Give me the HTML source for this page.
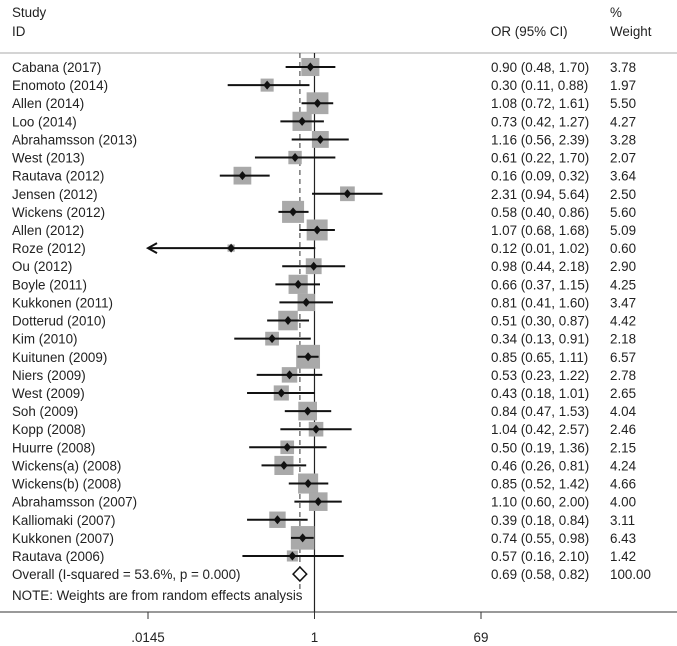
<!DOCTYPE html>
<html><head><meta charset="utf-8">
<style>
body{margin:0;background:#fff;}
svg{display:block;font-family:"Liberation Sans",Arial,sans-serif;}
</style></head>
<body>
<svg id="plot" width="677" height="646" viewBox="0 0 677 646">
<text x="12" y="17" font-size="13.4" fill="#222">Study</text>
<text x="12" y="36" font-size="13.4" fill="#222">ID</text>
<text x="491" y="36" font-size="13.4" fill="#222">OR (95% CI)</text>
<text x="610" y="17" font-size="13.4" fill="#222">%</text>
<text x="610" y="36" font-size="13.4" fill="#222">Weight</text>
<line x1="0" y1="53" x2="677" y2="53" stroke="#aaa" stroke-width="1"/>
<g id="marks"></g>
<line x1="0" y1="612" x2="677" y2="612" stroke="#333" stroke-width="1"/>
<text x="12" y="600" font-size="13.4" fill="#222">NOTE: Weights are from random effects analysis</text>
</svg>
<script>
const studies=["Cabana (2017)","Enomoto (2014)","Allen (2014)","Loo (2014)","Abrahamsson (2013)","West (2013)","Rautava (2012)","Jensen (2012)","Wickens (2012)","Allen (2012)","Roze (2012)","Ou (2012)","Boyle (2011)","Kukkonen (2011)","Dotterud (2010)","Kim (2010)","Kuitunen (2009)","Niers (2009)","West (2009)","Soh (2009)","Kopp (2008)","Huurre (2008)","Wickens(a) (2008)","Wickens(b) (2008)","Abrahamsson (2007)","Kalliomaki (2007)","Kukkonen (2007)","Rautava (2006)"];
const orVals=[0.90,0.30,1.08,0.73,1.16,0.61,0.16,2.31,0.58,1.07,0.12,0.98,0.66,0.81,0.51,0.34,0.85,0.53,0.43,0.84,1.04,0.50,0.46,0.85,1.10,0.39,0.74,0.57];
const lower=[0.48,0.11,0.72,0.42,0.56,0.22,0.09,0.94,0.40,0.68,0.01,0.44,0.37,0.41,0.30,0.13,0.65,0.23,0.18,0.47,0.42,0.19,0.26,0.52,0.60,0.18,0.55,0.16];
const upper=[1.70,0.88,1.61,1.27,2.39,1.70,0.32,5.64,0.86,1.68,1.02,2.18,1.15,1.60,0.87,0.91,1.11,1.22,1.01,1.53,2.57,1.36,0.81,1.42,2.00,0.84,0.98,2.10];
const weights=[3.78,1.97,5.50,4.27,3.28,2.07,3.64,2.50,5.60,5.09,0.60,2.90,4.25,3.47,4.42,2.18,6.57,2.78,2.65,4.04,2.46,2.15,4.24,4.66,4.00,3.11,6.43,1.42];
const overall=[0.69,0.58,0.82];
const tickVals=[0.0145,1,69];
const tickLabels=[".0145","1","69"];

const NS="http://www.w3.org/2000/svg";
const g=document.getElementById("marks");
const xMin=0.0145,xMax=69,px0=148,px1=481;
function xs(v){return px0+(Math.log(v)-Math.log(xMin))/(Math.log(xMax)-Math.log(xMin))*(px1-px0);}
function ys(i){return 67+i*18.11;}
function fmt(v){return v.toFixed(2);}
function mk(tag,attrs){const e=document.createElementNS(NS,tag);for(const k in attrs)e.setAttribute(k,attrs[k]);g.appendChild(e);return e;}

const yOv=ys(studies.length);
let l=mk("line",{x1:xs(1),y1:53,x2:xs(1),y2:612,stroke:"#222","stroke-width":1.2});


l=mk("line",{x1:xs(overall[0]),y1:53,x2:xs(overall[0]),y2:592,stroke:"#555","stroke-width":1.2,"stroke-dasharray":"5,4"});



studies.forEach((s,i)=>{
  const y=ys(i),cx=xs(orVals[i]);
  const side=9.3*Math.sqrt(weights[i]);
  const b=mk("rect",{x:cx-side/2,y:y-side/2,width:side,height:side,fill:"#a9a9a9"});
  
  
  const lo=Math.max(lower[i],xMin),clipped=lower[i]<xMin;
  const ci=mk("line",{x1:xs(lo),y1:y,x2:xs(Math.min(upper[i],xMax)),y2:y,stroke:"#111","stroke-width":2});
  
  
  if(clipped){
    const a=mk("path",{d:`M${xs(lo)+9},${y-5} L${xs(lo)},${y} L${xs(lo)+9},${y+5}`,fill:"none",stroke:"#111","stroke-width":2});
    
    
  }
  const d=mk("path",{d:`M${cx},${y-4.5} L${cx+3.8},${y} L${cx},${y+4.5} L${cx-3.8},${y}Z`,fill:"#111"});
  
  
  let t=mk("text",{x:12,y:y+5,"font-size":13.4,fill:"#222"});t.textContent=s;
  
  
  t=mk("text",{x:491,y:y+5,"font-size":13.4,fill:"#222"});t.textContent=`${fmt(orVals[i])} (${fmt(lower[i])}, ${fmt(upper[i])})`;
  
  
  t=mk("text",{x:610,y:y+5,"font-size":13.4,fill:"#222"});t.textContent=fmt(weights[i]);
  
  
});

const dl=xs(overall[1]),dc=xs(overall[0]),dr=xs(overall[2]);
let dm=mk("path",{d:`M${dc},${yOv-7} L${dr},${yOv} L${dc},${yOv+7} L${dl},${yOv}Z`,fill:"#fff",stroke:"#111","stroke-width":1.5});


let t=mk("text",{x:12,y:yOv+5,"font-size":13.4,fill:"#222"});t.textContent="Overall  (I-squared = 53.6%, p = 0.000)";


t=mk("text",{x:491,y:yOv+5,"font-size":13.4,fill:"#222"});t.textContent=`${fmt(overall[0])} (${fmt(overall[1])}, ${fmt(overall[2])})`;


t=mk("text",{x:610,y:yOv+5,"font-size":13.4,fill:"#222"});t.textContent="100.00";



tickVals.forEach((v,i)=>{
  const x=xs(v);
  const tk=mk("line",{x1:x,y1:612,x2:x,y2:619,stroke:"#333","stroke-width":1});
  
  
  const tl=mk("text",{x:x,y:642,"font-size":13.4,fill:"#222","text-anchor":"middle"});tl.textContent=tickLabels[i];
  
  
});
</script>
</body></html>
